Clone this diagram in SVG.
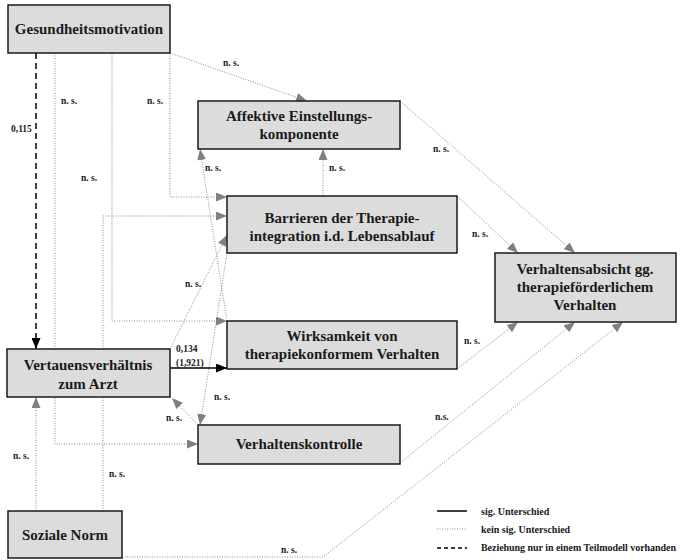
<svg xmlns="http://www.w3.org/2000/svg" width="680" height="560" viewBox="0 0 680 560">
<style>
.box{fill:#dcdcdc;stroke:#1a1a1a;stroke-width:1.5}
.t{font-family:"Liberation Serif","Times New Roman",serif;font-weight:bold;font-size:15px;fill:#1a1a1a;text-anchor:middle}
.l{font-family:"Liberation Serif","Times New Roman",serif;font-weight:bold;font-size:9.5px;fill:#1a1a1a}
.lg{font-family:"Liberation Serif","Times New Roman",serif;font-weight:bold;font-size:10px;fill:#1a1a1a}
.dot{fill:none;stroke:#8a8a8a;stroke-width:1;stroke-dasharray:1 1.5}
.dotA{fill:none;stroke:#8a8a8a;stroke-width:1;stroke-dasharray:1 1.5;marker-end:url(#ga)}
.sol{fill:none;stroke:#000;stroke-width:1.5}
.dash{fill:none;stroke:#000;stroke-width:1.5;stroke-dasharray:6 4}
</style>
<defs>
<marker id="ga" markerUnits="userSpaceOnUse" markerWidth="11" markerHeight="9" refX="11" refY="4.5" orient="auto">
<path d="M0,0 L11,4.5 L0,9 z" fill="#808080"/>
</marker>
<marker id="ba" markerUnits="userSpaceOnUse" markerWidth="11" markerHeight="9" refX="11" refY="4.5" orient="auto">
<path d="M0,0 L11,4.5 L0,9 z" fill="#000"/>
</marker>
</defs>
<rect width="680" height="560" fill="#fff"/>
<g id="connectors">
<path class="dotA" d="M170,53 L307,101"/>
<path class="dotA" d="M55,53 V444 H198"/>
<path class="dotA" d="M112,53 V321 H227"/>
<path class="dotA" d="M170,53 V197 H227"/>
<path class="dotA" d="M400,101 L575,253"/>
<path class="dotA" d="M457,196 L518,253"/>
<path class="dotA" d="M323,196 V149"/>
<path class="dotA" d="M227,321 L200,149"/>
<path class="dotA" d="M170,349 L227,235"/>
<path class="dotA" d="M227,253 L200,425"/>
<path class="dotA" d="M198,425 L172,398"/>
<path class="dotA" d="M36,511 V397"/>
<path class="dotA" d="M103,511 V216 H227"/>
<path class="dotA" d="M122,557 H323 L623,322"/>
<path class="dotA" d="M400,463 L575,322"/>
<path class="dotA" d="M457,369 L518,322"/>
<path class="sol" d="M170,368 H227" marker-end="url(#ba)"/>
<path class="dash" d="M36,53 V349" marker-end="url(#ba)"/>
<text class="l" x="223" y="66">n. s.</text>
<text class="l" x="61" y="104">n. s.</text>
<text class="l" x="147" y="104">n. s.</text>
<text class="l" x="11" y="132">0,115</text>
<text class="l" x="81" y="181">n. s.</text>
<text class="l" x="205" y="171">n. s.</text>
<text class="l" x="329" y="171">n. s.</text>
<text class="l" x="433" y="152">n. s.</text>
<text class="l" x="472" y="237">n. s.</text>
<text class="l" x="185" y="287">n. s.</text>
<text class="l" x="464" y="344">n. s.</text>
<text class="l" x="214" y="400">n. s.</text>
<text class="l" x="166" y="421">n. s.</text>
<text class="l" x="435" y="420">n.s.</text>
<text class="l" x="13" y="459">n. s.</text>
<text class="l" x="109" y="477">n. s.</text>
<text class="l" x="281" y="553">n. s.</text>
<text class="l" x="176" y="352">0,134</text>
<text class="l" x="176" y="366">(1,921)</text>
</g>
<g id="n-gesundheit"><rect class="box" x="8" y="5" width="162" height="48"/><text class="t" x="89" y="34">Gesundheitsmotivation</text></g>
<g id="n-affektiv"><rect class="box" x="198" y="101" width="202" height="48"/><text class="t" x="299" y="121">Affektive Einstellungs-</text><text class="t" x="299" y="139">komponente</text></g>
<g id="n-barrieren"><rect class="box" x="227" y="196" width="230" height="57"/><text class="t" x="342" y="223">Barrieren der Therapie-</text><text class="t" x="342" y="241">integration i.d. Lebensablauf</text></g>
<g id="n-absicht"><rect class="box" x="495" y="253" width="181" height="69"/><text class="t" x="585" y="274">Verhaltensabsicht gg.</text><text class="t" x="585" y="292">therapieförderlichem</text><text class="t" x="585" y="310">Verhalten</text></g>
<g id="n-wirksamkeit"><rect class="box" x="227" y="321" width="230" height="48"/><text class="t" x="342" y="341">Wirksamkeit von</text><text class="t" x="342" y="359">therapiekonformem Verhalten</text></g>
<g id="n-vertrauen"><rect class="box" x="7" y="349" width="163" height="48"/><text class="t" x="88" y="370">Vertauensverhältnis</text><text class="t" x="88" y="389">zum Arzt</text></g>
<g id="n-kontrolle"><rect class="box" x="198" y="425" width="202" height="39"/><text class="t" x="299" y="449">Verhaltenskontrolle</text></g>
<g id="n-norm"><rect class="box" x="8" y="511" width="114" height="47"/><text class="t" x="65" y="540">Soziale Norm</text></g>
<g id="legend">
<path class="sol" d="M437,511 H467"/>
<path class="dot" d="M437,529 H467"/>
<path class="dash" d="M437,548 H467" style="stroke-dasharray:4 3"/>
<text class="lg" x="481" y="515">sig. Unterschied</text>
<text class="lg" x="481" y="533">kein sig. Unterschied</text>
<text class="lg" x="481" y="551" textLength="195" lengthAdjust="spacing">Beziehung nur in einem Teilmodell vorhanden</text>
</g>
</svg>
